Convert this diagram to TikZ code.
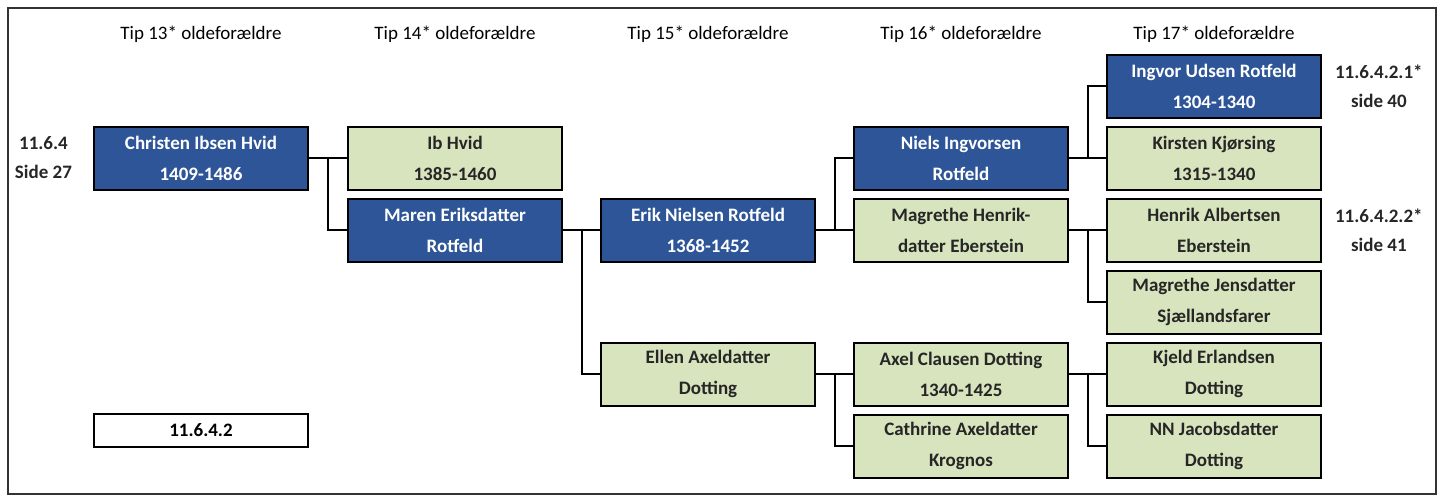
\documentclass[tikz,border=0pt]{standalone}
\usepackage{fontspec}
\setmainfont{Carlito}
\usetikzlibrary{positioning}

\definecolor{famblue}{RGB}{45,85,151}
\definecolor{famgreen}{RGB}{216,228,189}

\begin{document}
\begin{tikzpicture}[
  font=\fontsize{9.5}{15.5}\selectfont,
  person/.style={draw=black, line width=1pt, align=center, minimum width=107pt, minimum height=31.5pt, inner sep=1pt, font=\fontsize{9.5}{15.5}\selectfont\bfseries},
  main/.style={person, fill=famblue, text=white},
  other/.style={person, fill=famgreen, text=black!85},
  refbox/.style={draw=black, line width=1pt, fill=white, minimum width=107pt, minimum height=16.5pt, font=\fontsize{9.5}{12}\selectfont\bfseries},
  head/.style={font=\fontsize{9.5}{12}\selectfont, text=black},
  side/.style={align=center, font=\fontsize{9.5}{14.5}\selectfont\bfseries, text=black!85},
  link/.style={draw=black, line width=0.9pt}
]

\useasboundingbox (0,0) rectangle (721pt,-247.5pt);
\draw[line width=1pt, draw=black!80] (4pt,-4pt) rectangle (718pt,-246.8pt);

\node[main] (christen) at (100.5pt,-79pt) {Christen Ibsen Hvid\\1409-1486};
\node[other, right=19pt of christen] (ib) {Ib Hvid\\1385-1460};
\node[main, below=3.5pt of ib] (maren) {Maren Eriksdatter\\Rotfeld};
\node[main, right=18.5pt of maren] (erik) {Erik Nielsen Rotfeld\\1368-1452};
\node[other, below=39.5pt of erik] (ellen) {Ellen Axeldatter\\Dotting};
\node[main, right=18.5pt of erik, yshift=36pt] (niels) {Niels Ingvorsen\\Rotfeld};
\node[other, below=3.5pt of niels] (magrethe) {Magrethe Henrik-\\datter Eberstein};
\node[other, right=18.5pt of ellen] (axel) {Axel Clausen Dotting\\1340-1425};
\node[other, below=3.5pt of axel] (cathrine) {Cathrine Axeldatter\\Krognos};
\node[main, right=18.5pt of niels, yshift=36pt] (ingvor) {Ingvor Udsen Rotfeld\\1304-1340};
\node[other, below=3.5pt of ingvor] (kirsten) {Kirsten Kjørsing\\1315-1340};
\node[other, below=3.5pt of kirsten] (henrik) {Henrik Albertsen\\Eberstein};
\node[other, below=3.5pt of henrik] (jensdatter) {Magrethe Jensdatter\\Sjællandsfarer};
\node[other, below=3.5pt of jensdatter] (kjeld) {Kjeld Erlandsen\\Dotting};
\node[other, below=3.5pt of kjeld] (nn) {NN Jacobsdatter\\Dotting};

\node[refbox, below=111pt of christen] (ref) {11.6.4.2};

\coordinate (hdr) at (0,-17pt);
\node[head] (h13) at (christen |- hdr) {Tip 13* oldeforældre};
\node[head] (h14) at (ib |- hdr) {Tip 14* oldeforældre};
\node[head] (h15) at (erik |- hdr) {Tip 15* oldeforældre};
\node[head] (h16) at (niels |- hdr) {Tip 16* oldeforældre};
\node[head] (h17) at (ingvor |- hdr) {Tip 17* oldeforældre};

\node[side, left=7pt of christen] (s27) {11.6.4\\Side 27};
\node[side, right=3pt of ingvor] (s40) {11.6.4.2.1*\\side 40};
\node[side, right=3pt of henrik] (s41) {11.6.4.2.2*\\side 41};

\foreach \c/\f/\m in {christen/ib/maren, maren/erik/ellen, erik/niels/magrethe,
    ellen/axel/cathrine, niels/ingvor/kirsten, magrethe/henrik/jensdatter, axel/kjeld/nn} {
  \draw[link] (\c.east) -- ++(9.5pt,0) |- (\f.west);
  \draw[link] (\c.east) -- ++(9.5pt,0) |- (\m.west);
}

\end{tikzpicture}
\end{document}
